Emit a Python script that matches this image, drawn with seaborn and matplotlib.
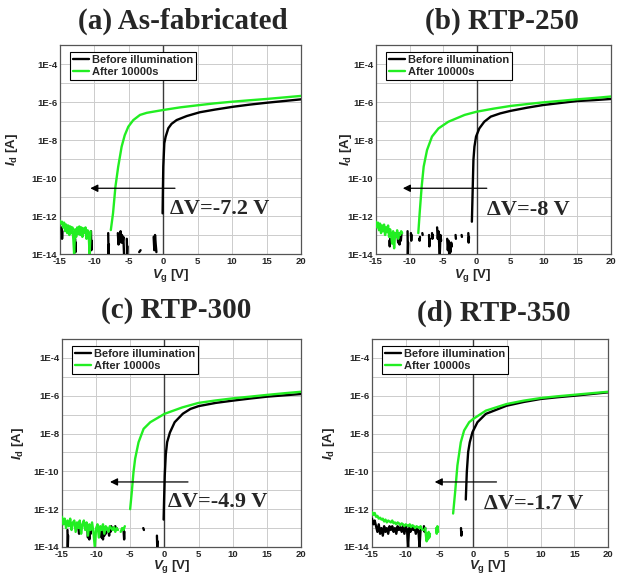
import numpy as np
import pandas as pd
import matplotlib
matplotlib.use("Agg")
import matplotlib.pyplot as plt
import seaborn as sns
from matplotlib.lines import Line2D
from matplotlib.ticker import FixedLocator, MultipleLocator, NullLocator

nan = np.nan

# ---------------------------------------------------------------------------
# Transfer curves: gate voltage Vg [V] and log10 of drain current Id [A].
# nan marks a break in the measured trace.
# ---------------------------------------------------------------------------

# (a) As-fabricated
vg_a_before = [-14.75, -14.7, -14.65, nan,
               -12.8, -12.75, -12.7, nan,
               -10.5, -10.45, -10.4, nan,
               -8.0, -7.95, -7.9, nan,
               -6.6, -6.5, -6.4, -6.3, -6.2, -6.1, -6.0, -5.9, -5.8, -5.7, nan,
               -5.3, -5.25, -5.2, nan,
               -3.5, -3.3, nan,
               -1.4, -1.3, -1.2, -1.1, -1.0, nan,
               -0.1, -0.05, 0.0, 0.15, 0.34, 0.73, 1.2, 1.94, 3.4, 5.3, 7.5,
               10.15, 12.5, 15.0, 17.5, 20.0]
logid_a_before = [-12.6, -13.2, -12.8, nan,
                  -13.2, -13.9, -13.4, nan,
                  -12.8, -13.8, -13.3, nan,
                  -12.9, -14.0, -13.5, nan,
                  -12.9, -13.5, -13.0, -13.3, -12.8, -13.4, -13.0, -13.4, -13.1, -14.0, nan,
                  -13.2, -14.0, -13.6, nan,
                  -13.9, -13.8, nan,
                  -13.1, -13.8, -13.0, -13.5, -13.9, nan,
                  -11.86, -10.5, -9.4, -8.17, -7.83, -7.38, -7.15, -6.95, -6.74, -6.54, -6.40,
                  -6.25, -6.14, -6.04, -5.95, -5.86]
vg_a_after = [-15.0, -14.85, -14.7, -14.55, -14.4, -14.25, -14.1, -13.95, -13.8, -13.65,
              -13.5, -13.35, -13.2, -13.05, -12.95, -12.8, -12.65, -12.5, -12.35, -12.2,
              -12.05, -11.9, -11.75, -11.6, -11.45, -11.3, -11.15, -11.0, -10.85, -10.7,
              -10.55, nan,
              -7.62, -7.3, -6.95, -6.55, -6.05, -5.6, -5.08, -4.35, -3.38, -2.4, -1.45,
              0.0, 2.5, 5.3, 7.5, 10.15, 12.5, 15.0, 17.5, 20.0]
logid_a_after = [-12.25, -12.4, -12.3, -12.6, -12.35, -12.8, -12.45, -12.9, -12.5, -13.0,
                 -12.55, -12.9, -12.6, -13.3, -14.0, -12.7, -13.1, -12.6, -12.95, -12.55,
                 -13.0, -12.6, -13.1, -12.65, -12.9, -12.6, -13.2, -12.75, -12.9, -14.0,
                 -12.8, nan,
                 -12.74, -11.86, -10.46, -9.41, -8.35, -7.75, -7.30, -6.95, -6.68, -6.57, -6.51,
                 -6.42, -6.28, -6.16, -6.07, -5.98, -5.91, -5.84, -5.76, -5.68]

# (b) RTP-250
vg_b_before = [-13.0, -12.95, -12.9, nan,
               -11.8, -11.7, -11.6, -11.5, -11.4, -11.3, -11.2, nan,
               -10.3, -10.25, -10.2, nan,
               -9.8, -9.75, -9.7, nan,
               -8.55, -8.5, -8.45, nan,
               -8.1, -8.05, nan,
               -7.1, -7.05, -7.0, nan,
               -6.65, -6.6, -6.55, nan,
               -5.9, -5.8, -5.7, -5.6, -5.5, -5.4, -5.3, nan,
               -4.4, -4.3, -4.2, -4.1, -4.0, -3.9, -3.8, -3.7, nan,
               -3.15, -3.1, nan,
               -2.25, -2.2, nan,
               -1.25, -1.2, -1.15, nan,
               -0.72, -0.62, -0.49, -0.34, -0.1, 0.39, 1.12, 2.09, 3.5, 5.0, 7.5,
               9.87, 12.5, 14.9, 17.5, 20.0]
logid_b_before = [-13.3, -13.6, -13.2, nan,
                  -13.0, -13.4, -12.9, -13.5, -13.1, -13.3, -12.9, nan,
                  -12.8, -14.0, -13.4, nan,
                  -12.9, -13.3, -13.0, nan,
                  -13.2, -13.3, -13.1, nan,
                  -12.9, -13.0, nan,
                  -13.0, -13.6, -13.2, nan,
                  -12.9, -13.2, -13.0, nan,
                  -12.6, -13.2, -12.8, -13.4, -14.0, -13.0, -13.3, nan,
                  -13.2, -13.8, -13.3, -14.0, -13.5, -13.9, -13.4, -13.6, nan,
                  -13.0, -13.2, nan,
                  -13.0, -13.1, nan,
                  -12.9, -13.4, -13.1, nan,
                  -12.3, -10.9, -9.05, -8.35, -7.82, -7.39, -7.04, -6.77, -6.6, -6.47, -6.3,
                  -6.16, -6.05, -5.95, -5.9, -5.84]
vg_b_after = [-15.0, -14.85, -14.7, -14.55, -14.4, -14.25, -14.1, -13.95, -13.8, -13.65,
              -13.5, -13.35, -13.2, -13.05, -12.9, -12.75, -12.6, -12.45, -12.3, -12.15,
              -12.0, -11.85, -11.7, -11.55, -11.4, -11.25, -11.1, nan,
              -8.7, -8.5, -8.2, -7.9, -7.4, -6.66, -5.69, -4.23, -1.8, 0.0, 2.5, 5.0,
              7.5, 9.87, 12.5, 14.9, 17.5, 20.0]
logid_b_after = [-12.3, -12.6, -12.35, -12.75, -12.4, -12.9, -12.5, -12.8, -12.45, -13.0,
                 -12.6, -12.85, -12.5, -13.1, -12.7, -13.0, -13.45, -12.8, -13.7, -12.9,
                 -13.1, -12.75, -13.2, -12.9, -13.0, -12.8, -12.9, nan,
                 -12.9, -11.86, -10.46, -9.4, -8.53, -7.82, -7.39, -7.04, -6.68, -6.51, -6.35, -6.21,
                 -6.11, -6.02, -5.94, -5.86, -5.79, -5.71]

# (c) RTP-300
vg_c_before = [-14.2, -14.15, -14.1, nan,
               -12.6, -12.5, -12.4, -12.3, nan,
               -11.3, -11.2, -11.1, -11.0, -10.9, -10.8, -10.7, nan,
               -9.3, -9.2, -9.1, -9.0, -8.9, -8.8, -8.7, -8.6, -8.5, nan,
               -8.2, -8.1, -8.0, -7.9, -7.8, -7.7, -7.6, nan,
               -7.2, -7.1, -7.0, nan,
               -6.0, -5.95, -5.9, -5.85, nan,
               -3.1, -3.0, nan,
               -1.1, -1.05, -1.0, nan,
               -0.12, -0.05, 0.05, 0.2, 0.4, 0.8, 1.5, 2.7, 3.8, 5.0, 7.5, 10.0,
               12.5, 15.0, 17.5, 20.0]
logid_c_before = [-13.1, -14.0, -13.4, nan,
                  -13.0, -13.3, -12.9, -13.2, nan,
                  -13.0, -13.5, -12.9, -13.6, -13.1, -13.3, -13.0, nan,
                  -13.2, -13.5, -13.0, -13.6, -13.2, -13.4, -13.1, -13.3, -13.2, nan,
                  -13.1, -13.4, -13.0, -13.2, -12.9, -13.1, -13.0, nan,
                  -12.9, -13.1, -13.0, nan,
                  -13.0, -13.3, -13.6, -13.2, nan,
                  -13.0, -13.1, nan,
                  -13.4, -14.0, -13.7, nan,
                  -12.55, -11.5, -10.2, -9.1, -8.45, -7.95, -7.4, -6.95, -6.7, -6.55, -6.38, -6.26,
                  -6.15, -6.05, -5.98, -5.91]
vg_c_after = [-15.0, -14.8, -14.6, -14.4, -14.2, -14.0, -13.8, -13.6, -13.4, -13.2,
              -13.0, -12.8, -12.6, -12.4, -12.2, -12.0, -11.8, -11.6, -11.4, -11.2,
              -11.0, -10.8, -10.6, -10.4, -10.2, -10.0, -9.8, -9.6, -9.4, -9.2,
              -9.0, -8.8, -8.6, -8.4, -8.2, -8.0, -7.8, -7.6, -7.4, -7.2,
              -7.0, -6.8, nan, -6.4, -6.2, -6.0, -5.8, nan,
              -5.02, -4.78, -4.53, -4.29, -3.79, -3.05, -2.07, -0.84, 0.0, 2.6, 4.98,
              7.5, 10.0, 12.5, 14.9, 17.5, 20.0]
logid_c_after = [-12.4, -12.8, -12.5, -13.0, -12.6, -12.9, -12.5, -13.1, -12.7, -12.6,
                 -13.2, -12.7, -13.0, -12.6, -13.3, -12.8, -12.6, -13.1, -12.7, -13.4,
                 -12.8, -13.1, -12.7, -13.2, -14.0, -13.0, -12.8, -13.5, -12.9, -13.1,
                 -12.8, -13.3, -12.9, -13.0, -13.2, -12.9, -13.0, -13.1, -12.95, -13.2,
                 -13.0, -13.1, nan, -13.2, -13.0, -13.1, -12.9, nan,
                 -12.0, -11.09, -10.04, -9.33, -8.46, -7.75, -7.4, -7.14, -6.96, -6.62, -6.38,
                 -6.25, -6.14, -6.05, -5.96, -5.87, -5.79]

# (d) RTP-350
vg_d_before = [-15.0, -14.8, -14.6, -14.4, -14.2, -14.0, -13.8, -13.6, -13.4, -13.2,
               -13.0, -12.8, -12.6, -12.4, -12.2, -12.0, -11.8, -11.6, -11.4, -11.2,
               -11.0, -10.8, -10.6, -10.4, -10.2, -10.0, -9.8, -9.65, -9.5, -9.3,
               -9.1, -8.9, -8.7, -8.5, -8.3, -8.1, -7.95, -7.8, nan,
               -7.3, -7.2, -7.1, nan,
               -1.8, -1.75, -1.7, nan,
               -1.09, -0.94, -0.74, -0.5, -0.1, 0.64, 1.88, 4.95, 7.5, 10.05, 12.5,
               15.0, 17.5, 20.0]
logid_d_before = [-12.5, -12.8, -12.6, -12.9, -13.2, -12.8, -13.3, -13.0, -13.4, -12.9,
                  -13.2, -13.0, -13.3, -12.9, -13.1, -12.9, -13.2, -13.0, -13.3, -12.9,
                  -13.1, -12.95, -13.2, -12.9, -13.3, -12.9, -13.1, -14.0, -13.0, -13.2,
                  -12.9, -13.1, -12.95, -13.3, -13.0, -13.2, -14.0, -13.1, nan,
                  -12.9, -13.2, -13.0, nan,
                  -13.0, -13.4, -13.2, nan,
                  -11.49, -10.04, -8.98, -8.46, -7.93, -7.4, -6.96, -6.53, -6.33, -6.17, -6.08,
                  -6.0, -5.91, -5.82]
vg_d_after = [-15.0, -14.8, -14.6, -14.4, -14.2, -14.0, -13.8, -13.6, -13.4, -13.2,
              -13.0, -12.8, -12.6, -12.4, -12.2, -12.0, -11.8, -11.6, -11.4, -11.2,
              -11.0, -10.8, -10.6, -10.4, -10.2, -10.0, -9.8, -9.6, -9.4, -9.2,
              -9.0, -8.8, -8.6, -8.4, -8.2, -8.0, -7.8, -7.6, -7.4, nan,
              -7.1, -7.0, -6.9, -6.8, -6.7, -6.6, -6.5, -6.4, nan,
              -5.5, -5.4, -5.3, -5.2, nan,
              -2.97, -2.67, -2.33, -1.83, -1.34, -0.59, 0.0, 1.88, 4.95, 7.5, 10.05,
              12.5, 15.0, 17.5, 20.0]
logid_d_after = [-12.15, -12.3, -12.2, -12.4, -12.35, -12.5, -12.45, -12.55, -12.5, -12.65,
                 -12.55, -12.7, -12.6, -12.65, -12.7, -12.6, -12.75, -12.7, -12.8, -12.7,
                 -12.75, -12.85, -12.75, -12.8, -12.9, -12.8, -12.85, -12.9, -12.8, -12.95,
                 -12.85, -12.9, -13.0, -12.9, -12.95, -13.0, -12.9, -13.05, -13.1, nan,
                 -13.0, -13.4, -13.7, -13.3, -13.6, -13.2, -13.5, -13.3, nan,
                 -13.0, -13.3, -12.9, -13.2, nan,
                 -12.23, -11.09, -9.68, -8.46, -7.84, -7.4, -7.23, -6.79, -6.44, -6.26, -6.12,
                 -6.03, -5.95, -5.87, -5.79]

titles = ["(a) As-fabricated", "(b) RTP-250", "(c) RTP-300", "(d) RTP-350"]
shift_labels = ["\u0394V=-7.2 V", "\u0394V=-8 V", "\u0394V=-4.9 V", "\u0394V=-1.7 V"]
series_names = ["Before illumination", "After 10000s"]

curves = [
    ((vg_a_before, logid_a_before), (vg_a_after, logid_a_after)),
    ((vg_b_before, logid_b_before), (vg_b_after, logid_b_after)),
    ((vg_c_before, logid_c_before), (vg_c_after, logid_c_after)),
    ((vg_d_before, logid_d_before), (vg_d_after, logid_d_after)),
]

# ---------------------------------------------------------------------------
# Layout (pixels of a 617 x 576 canvas) and annotation placement
# ---------------------------------------------------------------------------
W, H = 617, 576
axes_px = [(60, 301, 45, 254), (376, 611, 45, 254),
           (62, 301, 339, 547), (372, 608, 339, 547)]
title_px = [(183, 21), (502, 21), (176, 311), (494, 313)]
ylabel_x = [-0.165, -0.095, -0.152, -0.150]
xlabel_x = [0.46, 0.41, 0.46, 0.49]
xlabel_y = [-0.062, -0.060, -0.052, -0.052]
arrow_spec = [(1.7, -10.6, 10**-10.54), (1.5, -11.0, 10**-10.54),
              (3.45, -7.97, 10**-10.56), (3.46, -5.7, 10**-10.56)]
text_spec = [(1.0, 10**-11.62), (1.5, 10**-11.7), (0.45, 10**-11.64), (1.65, 10**-11.72)]

colors = {"Before illumination": "#000000", "After 10000s": "#22EE22"}

sns.set_style("white")
plt.rcParams["font.family"] = ["Liberation Sans", "DejaVu Sans"]
plt.rcParams["mathtext.fontset"] = "custom"
plt.rcParams["mathtext.it"] = "Liberation Sans:italic:bold"
plt.rcParams["mathtext.rm"] = "Liberation Sans:bold"
plt.rcParams["mathtext.bf"] = "Liberation Sans:bold"


def to_frame(vg, logid, name):
    vg = np.asarray(vg, float)
    lg = np.asarray(logid, float)
    seg = np.cumsum(np.isnan(vg))
    keep = ~np.isnan(vg)
    return pd.DataFrame({
        "Vg": vg[keep],
        "Id": 10.0 ** lg[keep],
        "seg": [f"{name}-{s}" for s in seg[keep]],
        "curve": name,
    })


fig = plt.figure(figsize=(W / 100, H / 100), dpi=100)

for i in range(4):
    l, r, t, b = axes_px[i]
    ax = fig.add_axes([l / W, 1 - b / H, (r - l) / W, (b - t) / H])
    ax.set_yscale("log")

    (vb, lb), (va, la) = curves[i]
    df = pd.concat([to_frame(vb, lb, series_names[0]),
                    to_frame(va, la, series_names[1])], ignore_index=True)
    sns.lineplot(data=df, x="Vg", y="Id", hue="curve", units="seg",
                 estimator=None, sort=False, palette=colors, linewidth=1.7,
                 legend=False, ax=ax, zorder=3)

    ax.set_xlim(-15, 20)
    ax.set_ylim(1e-14, 1e-3)

    # ticks
    ax.xaxis.set_major_locator(MultipleLocator(5))
    ax.xaxis.set_minor_locator(MultipleLocator(2.5))
    ydec = list(range(-14, -2))
    ax.yaxis.set_major_locator(FixedLocator([10.0 ** k for k in ydec]))
    ax.yaxis.set_minor_locator(NullLocator())
    ax.set_yticklabels([f"1E{k}" if (k % 2 == 0 and k <= -4) else "" for k in ydec])
    ax.set_xticks([-15, -10, -5, 0, 5, 10, 15, 20])
    ax.set_xticklabels(["-15", "-10", "-5", "0", "5", "10", "15", "20"])
    ax.tick_params(axis="both", which="major", direction="in", length=3.5, width=0.8,
                   color="#333333", labelsize=6.8, pad=2)
    ax.tick_params(axis="x", which="minor", direction="in", length=2, width=0.7,
                   color="#333333")
    for lab in ax.get_xticklabels() + ax.get_yticklabels():
        lab.set_fontweight("bold")

    ax.grid(True, which="major", color="#cccccc", linewidth=0.7, zorder=0)
    ax.axvline(0, color="#3a3a3a", linewidth=1.0, zorder=2)
    for s in ax.spines.values():
        s.set_color("#555555")
        s.set_linewidth(0.9)

    ax.set_xlabel(r"$V_{\rm g}$ [V]", fontsize=9.5, fontweight="bold")
    ax.set_ylabel(r"$I_{\rm d}$ [A]", fontsize=9.5, fontweight="bold")
    ax.xaxis.set_label_coords(xlabel_x[i], xlabel_y[i])
    ax.yaxis.set_label_coords(ylabel_x[i], 0.5)

    handles = [Line2D([], [], color=colors[n], lw=1.7) for n in series_names]
    leg = ax.legend(handles, series_names, loc="upper left",
                    bbox_to_anchor=(0.042, 0.968), frameon=True, fancybox=False,
                    framealpha=1, edgecolor="black", borderpad=0.3,
                    handlelength=1.4, handletextpad=0.25, labelspacing=0.15,
                    borderaxespad=0.0, prop={"weight": "bold", "size": 8.0})
    leg.get_frame().set_linewidth(0.8)

    x0, x1, ya = arrow_spec[i]
    ax.annotate("", xy=(x1, ya), xytext=(x0, ya),
                arrowprops=dict(arrowstyle="-|>", color="black", lw=0.9,
                                mutation_scale=11, shrinkA=0, shrinkB=0),
                zorder=4)
    tx, ty = text_spec[i]
    ax.text(tx, ty, shift_labels[i], fontsize=16, fontweight="bold",
            family=["Liberation Serif", "DejaVu Serif"], va="center", ha="left",
            zorder=5)

    cx, cy = title_px[i]
    fig.text(cx / W, 1 - cy / H, titles[i], fontsize=21, fontweight="bold",
             family=["Liberation Serif", "DejaVu Serif"], ha="center", va="center")

fig.savefig("out.png", dpi=100)
